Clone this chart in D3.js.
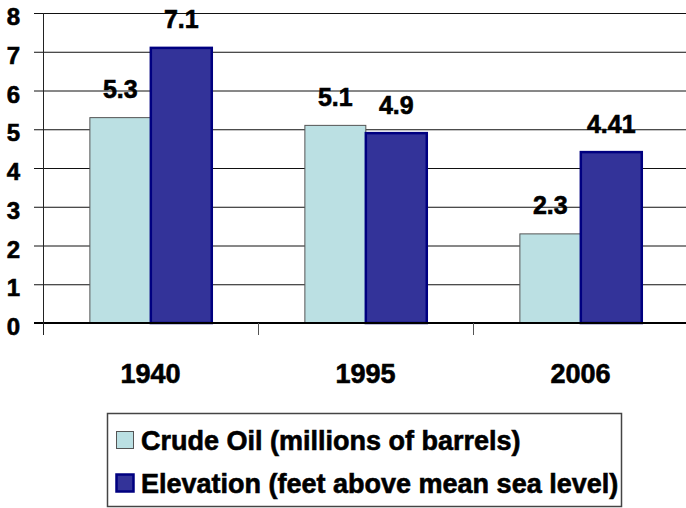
<!DOCTYPE html>
<html>
<head>
<meta charset="utf-8">
<script src="https://cdn.jsdelivr.net/npm/d3@7"></script>
<style>
  html, body { margin: 0; padding: 0; background: #fff; }
  text { font-family: "Liberation Sans", Arial, sans-serif; font-weight: bold; fill: #000; stroke: #000; stroke-width: 0.6px; }
</style>
</head>
<body>
<div id="chart"></div>
<script>
const years = ['1940', '1995', '2006'];
const seriesNames = ['Crude Oil (millions of barrels)', 'Elevation (feet above mean sea level)'];
const crudeOil = [5.3, 5.1, 2.3];
const elevation = [7.1, 4.9, 4.41];
const yTicks = [0, 1, 2, 3, 4, 5, 6, 7, 8];

const W = 686;
const H = 508;
const config = {
  left: 43,
  right: 688,
  top: 13,
  bottom: 323,
  fills: ['#BBE0E3', '#333399'],
  strokes: ['#555', '#000080'],
  strokeW: [1, 2.5]
};

const svg = d3.select('#chart')
  .append('svg')
  .attr('width', W)
  .attr('height', H);

const y = d3.scaleLinear()
  .domain([0, 8])
  .range([config.bottom, config.top]);

const x0 = d3.scaleBand()
  .domain(years)
  .range([config.left, config.right])
  .padding(0);

const bw = x0.bandwidth();
const x1 = d3.scaleBand()
  .domain([0, 1])
  .range([bw * 0.218, bw * 0.785])
  .padding(0);

// gridlines
svg.append('g')
  .selectAll('line')
  .data(yTicks.filter((d)=> d > 0))
  .enter()
  .append('line')
  .attr('x1', config.left - 9)
  .attr('x2', W)
  .attr('y1', (d)=> y(d) + 0.5)
  .attr('y2', (d)=> y(d) + 0.5)
  .attr('stroke', '#111')
  .attr('stroke-width', 1);

// y labels
svg.append('g')
  .selectAll('text')
  .data(yTicks)
  .enter()
  .append('text')
  .attr('x', 20)
  .attr('y', (d)=> y(d) + 12)
  .attr('text-anchor', 'end')
  .style('font-size', '24px')
  .text((d)=> d);

// bars
const rows = years.map((yr, i)=> ({ year: yr, values: [crudeOil[i], elevation[i]] }));

const groups = svg.append('g')
  .selectAll('g')
  .data(rows)
  .enter()
  .append('g')
  .attr('transform', (d)=> `translate(${x0(d.year)},0)`);

groups.selectAll('rect')
  .data((d)=> d.values.map((v, k)=> ({ v, k })))
  .enter()
  .append('rect')
  .attr('x', (d)=> x1(d.k))
  .attr('y', (d)=> y(d.v))
  .attr('width', x1.bandwidth())
  .attr('height', (d)=> y(0) - y(d.v))
  .attr('fill', (d)=> config.fills[d.k])
  .attr('stroke', (d)=> config.strokes[d.k])
  .attr('stroke-width', (d)=> config.strokeW[d.k]);

groups.selectAll('text')
  .data((d)=> d.values.map((v, k)=> ({ v, k })))
  .enter()
  .append('text')
  .attr('x', (d)=> x1(d.k) + x1.bandwidth() / 2)
  .attr('y', (d)=> y(d.v) - 19.5)
  .attr('text-anchor', 'middle')
  .style('font-size', '25px')
  .text((d)=> d.v);

// axes lines
svg.append('line')
  .attr('x1', config.left - 9).attr('x2', W)
  .attr('y1', y(0)).attr('y2', y(0))
  .attr('stroke', '#000').attr('stroke-width', 2);

svg.append('line')
  .attr('x1', config.left + 0.5).attr('x2', config.left + 0.5)
  .attr('y1', config.top).attr('y2', config.bottom + 12)
  .attr('stroke', '#222').attr('stroke-width', 1);

svg.append('g')
  .selectAll('line')
  .data(years.slice(1))
  .enter()
  .append('line')
  .attr('x1', (d)=> x0(d) + 0.5)
  .attr('x2', (d)=> x0(d) + 0.5)
  .attr('y1', config.bottom)
  .attr('y2', config.bottom + 12)
  .attr('stroke', '#555');

// category labels
svg.append('g')
  .selectAll('text')
  .data(years)
  .enter()
  .append('text')
  .attr('x', (d)=> x0(d) + bw / 2)
  .attr('y', 383)
  .attr('text-anchor', 'middle')
  .style('font-size', '27px')
  .text((d)=> d);

// legend
const lg = svg.append('g');
lg.append('rect')
  .attr('x', 107.5).attr('y', 413.5)
  .attr('width', 514).attr('height', 93)
  .attr('fill', 'none')
  .attr('stroke', '#444')
  .attr('stroke-width', 1.5);

const items = lg.selectAll('g')
  .data(seriesNames)
  .enter()
  .append('g')
  .attr('transform', (d, i)=> `translate(0,${i * 43})`);

items.append('rect')
  .attr('x', 116.5).attr('y', 431.5)
  .attr('width', 17).attr('height', 17)
  .attr('fill', (d, i)=> config.fills[i])
  .attr('stroke', (d, i)=> config.strokes[i])
  .attr('stroke-width', (d, i)=> config.strokeW[i]);

items.append('text')
  .attr('x', 141)
  .attr('y', 450)
  .style('font-size', '27px')
  .text((d)=> d);
</script>
</body>
</html>
